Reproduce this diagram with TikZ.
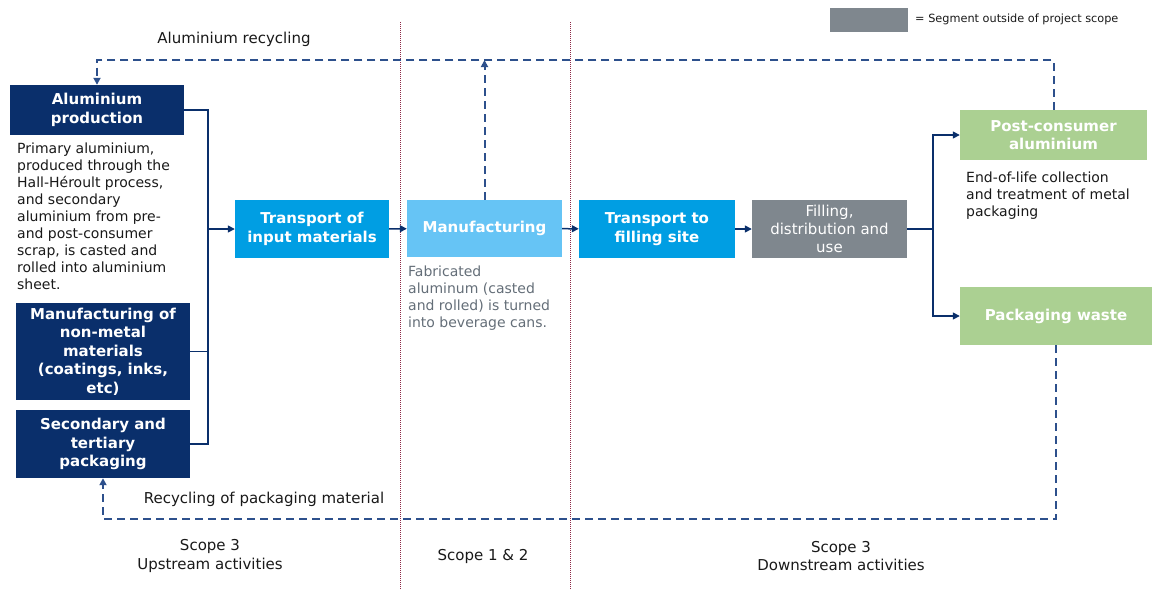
\documentclass[tikz,border=0pt]{standalone}
\usepackage{fontspec}
\setmainfont{DejaVu Sans}
\usetikzlibrary{positioning,arrows.meta}

\definecolor{navy}{RGB}{10,47,107}
\definecolor{brightblue}{RGB}{0,158,227}
\definecolor{paleblue}{RGB}{102,196,245}
\definecolor{outgrey}{RGB}{127,135,142}
\definecolor{eolgreen}{RGB}{171,208,146}
\definecolor{dashblue}{RGB}{45,80,140}
\definecolor{maroon}{RGB}{140,40,70}
\definecolor{ink}{RGB}{25,25,25}
\definecolor{notegrey}{RGB}{100,110,120}

\tikzset{
  stage/.style={fill=#1, text=white, align=center, inner sep=0pt,
    font=\fontsize{15}{18.5}\selectfont\bfseries},
  note/.style={align=left, anchor=north west, inner sep=0pt,
    font=\fontsize{14}{17}\selectfont, text=ink},
  link/.style={draw=navy, line width=1.5pt},
  flow/.style={link, -{Triangle[length=7pt,width=7pt]}},
  recycle/.style={draw=dashblue, line width=2pt, dash pattern=on 8pt off 5pt,
    -{Triangle[length=7pt,width=7pt]}},
  scopeline/.style={draw=maroon, line width=1pt, dash pattern=on 1pt off 1pt},
  caption/.style={font=\fontsize{15}{18.5}\selectfont, text=ink, align=center}
}

\begin{document}
\begin{tikzpicture}[x=1pt, y=-1pt]
  \useasboundingbox (0,0) rectangle (1152,590);

  % scope boundaries
  \draw[scopeline] (400,22) -- (400,590);
  \draw[scopeline] (570,22) -- (570,590);

  % legend
  \node[fill=outgrey, minimum width=78pt, minimum height=24pt] (legend) at (869,20) {};
  \node[anchor=west, inner sep=0pt, font=\fontsize{11.3}{13}\selectfont, text=ink]
    (legendtext) at (915,19) {= Segment outside of project scope};

  % upstream stages
  \node[stage=navy, minimum width=174pt, minimum height=50pt] (alprod) at (97,110)
    {Aluminium\\production};
  \node[note] (aldesc) at (17,143) {Primary aluminium,\\produced through the\\Hall-Héroult process,\\and secondary\\aluminium from pre-\\and post-consumer\\scrap, is casted and\\rolled into aluminium\\sheet.};
  \node[stage=navy, minimum width=174pt, minimum height=97pt] (nonmetal) at (103,351.5)
    {Manufacturing of\\non-metal\\materials\\(coatings, inks,\\etc)};
  \node[stage=navy, minimum width=174pt, minimum height=68pt] (secpack) at (103,444)
    {Secondary and\\tertiary\\packaging};
  \node[stage=brightblue, minimum width=154pt, minimum height=58pt] (transin) at (312,229)
    {Transport of\\input materials};

  % own operations
  \node[stage=paleblue, minimum width=155pt, minimum height=57pt] (manuf) at (484.5,228.5)
    {Manufacturing};
  \node[note, text=notegrey] (manufdesc) at (408,266) {Fabricated\\aluminum (casted\\and rolled) is turned\\into beverage cans.};

  % downstream stages
  \node[stage=brightblue, minimum width=156pt, minimum height=58pt] (transfill) at (657,229)
    {Transport to\\filling site};
  \node[stage=outgrey, minimum width=155pt, minimum height=58pt,
    font=\fontsize{15}{18}\selectfont] (filling) at (829.5,229)
    {Filling,\\distribution and\\use};
  \node[stage=eolgreen, minimum width=187pt, minimum height=50pt] (postcons) at (1053.5,135)
    {Post-consumer\\aluminium};
  \node[note] (eoldesc) at (966,172) {End-of-life collection\\and treatment of metal\\packaging};
  \node[stage=eolgreen, minimum width=192pt, minimum height=58pt] (packwaste) at (1056,316)
    {Packaging waste};

  % solid flow
  \coordinate (jin) at (208,229);
  \coordinate (jout) at (933,229);
  \draw[link] (alprod.east) -| (jin);
  \draw[link] (nonmetal.east) -| (jin);
  \draw[link] (secpack.east) -| (jin);
  \draw[flow] (jin) -- (transin);
  \draw[flow] (transin) -- (manuf);
  \draw[flow] (manuf) -- (transfill);
  \draw[flow] (transfill) -- (filling);
  \draw[link] (filling) -- (jout);
  \draw[flow] (jout) |- (postcons.west);
  \draw[flow] (jout) |- (packwaste.west);

  % recycling loops
  \coordinate (toprun) at (0,60);
  \coordinate (botrun) at (0,519);
  \draw[recycle] (postcons.north) -- (postcons.north |- toprun) -| (alprod.north);
  \draw[recycle] (manuf.north) -- (manuf.north |- toprun);
  \draw[recycle] (packwaste.south) -- (packwaste.south |- botrun) -| (secpack.south);
  \node[caption] (toplabel) at (234,39) {Aluminium recycling};
  \node[caption] (botlabel) at (264,499) {Recycling of packaging material};

  % scope captions
  \node[caption] (upstream) at (210,556) {Scope 3\\Upstream activities};
  \node[caption] (ownops) at (483,556) {Scope 1 \& 2};
  \node[caption] (downstream) at (841,556) {Scope 3\\Downstream activities};
\end{tikzpicture}
\end{document}
